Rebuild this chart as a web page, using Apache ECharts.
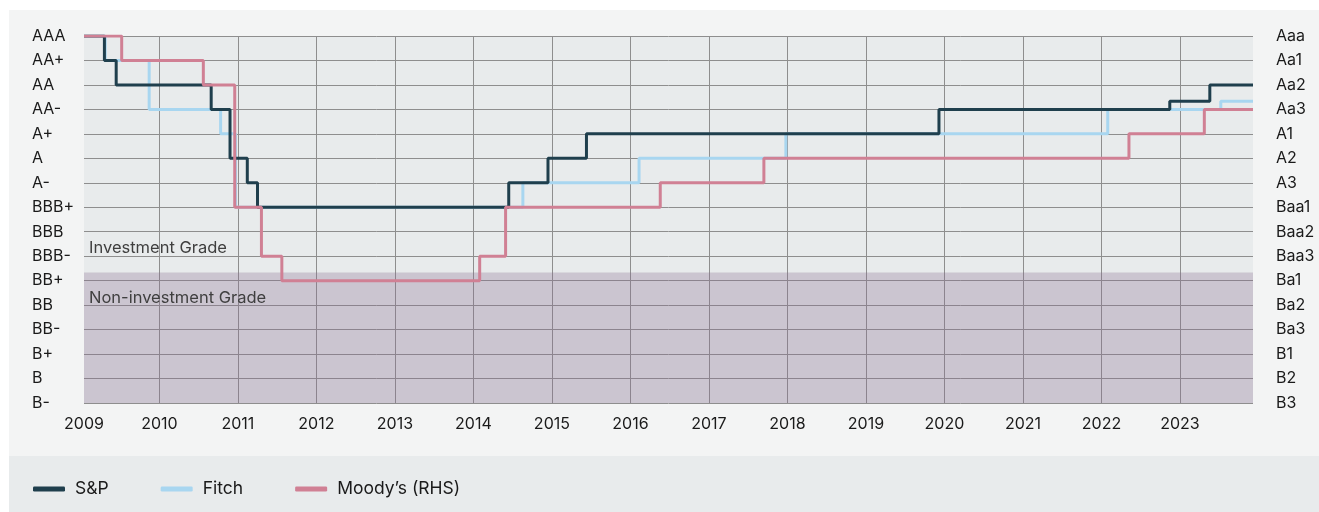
<!DOCTYPE html>
<html><head><meta charset="utf-8">
<script src="https://cdn.jsdelivr.net/npm/echarts@6/dist/echarts.min.js"></script>
<style>html,body{margin:0;padding:0;background:#fff}#c{width:1319px;height:512px}</style>
</head><body><div id="c"></div>
<script>
// Rating scale labels (index 0 = lowest)
const leftLabels = ['B-','B','B+','BB-','BB','BB+','BBB-','BBB','BBB+','A-','A','A+','AA-','AA','AA+','AAA'];
const rightLabels = ['B3','B2','B1','Ba3','Ba2','Ba1','Baa3','Baa2','Baa1','A3','A2','A1','Aa3','Aa2','Aa1','Aaa'];
const yearLabels = [2009,2010,2011,2012,2013,2014,2015,2016,2017,2018,2019,2020,2021,2022,2023];
const xStart = 2009.04;
const xEnd = 2023.93;
const investmentThreshold = 5.33;

// S&P (decimal year of change, new rating)
const spDates   = [2009.04, 2009.30, 2009.45, 2010.66, 2010.90, 2011.12, 2011.25, 2014.45, 2014.95, 2015.44, 2019.93, 2022.87, 2023.38, 2023.93];
const spRatings = [15, 14, 13, 12, 10, 9, 8, 9, 10, 11, 12, 12.33, 13, 13];
// Fitch
const fitchDates   = [2009.04, 2009.31, 2009.87, 2010.78, 2010.97, 2014.63, 2016.11, 2017.98, 2022.08, 2023.52, 2023.93];
const fitchRatings = [15, 14, 12, 11, 8, 9, 10, 11, 12, 12.33, 12.33];
// Moody's
const moodysDates   = [2009.04, 2009.52, 2010.56, 2010.96, 2011.30, 2011.56, 2014.08, 2014.41, 2016.38, 2017.70, 2022.35, 2023.31, 2023.93];
const moodysRatings = [15, 14, 13, 8, 6, 5, 6, 8, 9, 10, 11, 12, 12];

const zip = (a, b) => a.map((v, i) => [v, b[i]]);
const FONT = 'Inter, "Noto Sans", Roboto, sans-serif';
const yearTickValues = yearLabels.slice(1);
const yearLabelValues = [xStart].concat(yearTickValues);

const chart = echarts.init(document.getElementById('c'), null, {renderer: 'canvas'});
chart.setOption({
  animation: false,
  backgroundColor: '#ffffff',
  textStyle: {fontFamily: FONT},
  graphic: [
    {type: 'rect', z: -10, silent: true, shape: {x: 9, y: 10, width: 1310, height: 446}, style: {fill: '#f3f4f4'}},
    {type: 'rect', z: -10, silent: true, shape: {x: 9, y: 456, width: 1310, height: 56}, style: {fill: '#e8ebec'}}
  ],
  grid: {left: 84, right: 66, top: 36, bottom: 109, show: true, backgroundColor: '#e8ebec', borderWidth: 0},
  legend: {
    data: ['S&P', 'Fitch', 'Moody\u2019s (RHS)'],
    left: 33, top: 480, padding: 0, itemWidth: 32, itemHeight: 5, itemGap: 52,
    icon: 'roundRect',
    textStyle: {fontFamily: FONT, fontSize: 17.5, color: '#1a1a1a', padding: [0, 0, 0, 5]}
  },
  xAxis: {
    type: 'value', min: xStart, max: xEnd,
    axisLine: {show: false},
    axisTick: {show: false, customValues: yearTickValues},
    axisLabel: {
      customValues: yearLabelValues,
      formatter: v => String(Math.floor(v + 0.001)),
      fontSize: 16, color: '#1a1a1a', margin: 13, fontFamily: FONT
    },
    splitLine: {show: true, lineStyle: {color: '#8e8e8e', width: 1}}
  },
  yAxis: [
    {
      type: 'value', min: 0, max: 15, interval: 1, position: 'left',
      axisLine: {show: false}, axisTick: {show: false},
      axisLabel: {formatter: v => leftLabels[v] || '', align: 'left', margin: 52, fontSize: 16, color: '#1a1a1a', fontFamily: FONT},
      splitLine: {show: true, lineStyle: {color: '#8e8e8e', width: 1}}
    },
    {
      type: 'value', min: 0, max: 15, interval: 1, position: 'right',
      axisLine: {show: false}, axisTick: {show: false},
      axisLabel: {formatter: v => rightLabels[v] || '', margin: 23, fontSize: 16, color: '#1a1a1a', fontFamily: FONT},
      splitLine: {show: false}
    }
  ],
  series: [
    {
      name: 'Fitch', type: 'line', step: 'end', symbol: 'none',
      data: zip(fitchDates, fitchRatings),
      lineStyle: {color: '#a8d6f0', width: 3},
      itemStyle: {color: '#a8d6f0'},
      markArea: {
        silent: true,
        data: [
          [{yAxis: 0, itemStyle: {color: 'rgba(135,108,143,0.3)'},
            label: {show: true, position: 'insideTopLeft', offset: [0, 12], formatter: 'Non-investment Grade', color: '#3f3f3f', fontSize: 16.5, fontFamily: FONT}},
           {yAxis: investmentThreshold}],
          [{yAxis: investmentThreshold, itemStyle: {color: 'rgba(0,0,0,0)'},
            label: {show: true, position: 'insideBottomLeft', offset: [0, -11], formatter: 'Investment Grade', color: '#3f3f3f', fontSize: 16.5, fontFamily: FONT}},
           {yAxis: 15}]
        ]
      }
    },
    {
      name: 'S&P', type: 'line', step: 'end', symbol: 'none',
      data: zip(spDates, spRatings),
      lineStyle: {color: '#1f3f4d', width: 3},
      itemStyle: {color: '#1f3f4d'}
    },
    {
      name: 'Moody\u2019s (RHS)', type: 'line', step: 'end', symbol: 'none', yAxisIndex: 1,
      data: zip(moodysDates, moodysRatings),
      lineStyle: {color: '#d08094', width: 3},
      itemStyle: {color: '#d08094'}
    }
  ]
});
</script></body></html>
